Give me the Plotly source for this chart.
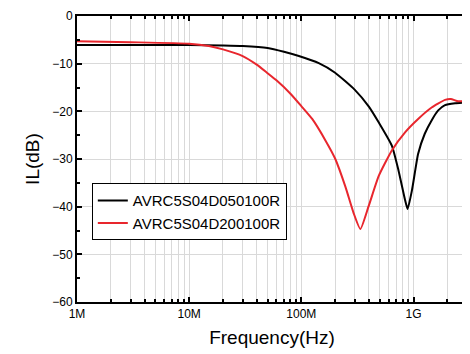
import plotly.graph_objects as go

# Black: AVRC5S04D050100R
freq_a = [1e6, 3e6, 1e7, 2e7, 3e7, 5e7, 7e7, 9.5e7, 1.43e8, 2.0e8, 3.0e8, 4.0e8, 4.89e8,
          6.41e8, 7.35e8, 8.41e8, 8.86e8, 9.7e8, 1.1e9, 1.26e9, 1.45e9, 1.66e9, 1.91e9,
          2.35e9, 3.0e9]
il_a = [-6.1, -6.1, -6.1, -6.2, -6.3, -6.7, -7.5, -8.4, -9.9, -11.9, -15.5, -19.0, -22.3,
        -27.2, -32.4, -38.6, -40.5, -36.5, -28.9, -24.7, -21.9, -19.8, -18.7,
        -18.3, -18.1]

# Red: AVRC5S04D200100R
freq_b = [1e6, 3e6, 1e7, 1.5e7, 2e7, 3e7, 4e7, 5e7, 6e7, 8e7, 1.0e8, 1.25e8, 1.64e8, 2.0e8,
          2.47e8, 2.93e8, 3.36e8, 3.98e8, 4.89e8, 6.41e8, 8.41e8, 1.1e9, 1.45e9, 1.91e9,
          2.15e9, 2.5e9, 3.0e9]
il_b = [-5.3, -5.5, -5.8, -6.3, -7.0, -8.4, -10.2, -12.0, -13.5, -16.3, -18.9, -21.6, -26.1, -29.9,
        -35.8, -41.4, -44.7, -39.9, -33.6, -28.2, -24.4, -21.6, -19.2, -17.6,
        -17.4, -17.9, -17.75]

names = ["AVRC5S04D050100R", "AVRC5S04D200100R"]
colors = ["#000000", "#e8262d"]

x_tickvals = [1e6, 1e7, 1e8, 1e9]
x_ticktext = ["1M", "10M", "100M", "1G"]
minor_vals = [m * d for d in [1e6, 1e7, 1e8, 1e9] for m in range(2, 10) if m * d <= 3e9]

fig = go.Figure()
fig.add_trace(go.Scatter(x=freq_a, y=il_a, mode="lines", name=names[0],
                         line=dict(color=colors[0], width=2, shape="spline", smoothing=0.5)))
fig.add_trace(go.Scatter(x=freq_b, y=il_b, mode="lines", name=names[1],
                         line=dict(color=colors[1], width=2, shape="spline", smoothing=0.5)))

font = "Liberation Sans, Arial, sans-serif"
fig.update_layout(
    width=462, height=346,
    margin=dict(l=69, r=1, t=7, b=52),
    plot_bgcolor="white", paper_bgcolor="white",
    font=dict(family=font, color="black", size=12),
    showlegend=True,
    legend=dict(x=0.038, y=0.415, xanchor="left", yanchor="top",
                bgcolor="white", bordercolor="black", borderwidth=1,
                font=dict(size=15, family=font), tracegroupgap=0,
                itemwidth=30),
)
fig.update_xaxes(
    type="log", range=[6, 9.477],
    tickvals=x_tickvals, ticktext=x_ticktext,
    ticks="inside", ticklen=5, tickwidth=1.5, tickcolor="black",
    showline=True, linecolor="black", linewidth=2, mirror="ticks",
    showgrid=True, gridcolor="#d9d9d9", gridwidth=1,
    minor=dict(tickvals=minor_vals, ticks="inside", ticklen=3, tickcolor="black",
               showgrid=True, gridcolor="#d9d9d9", gridwidth=1),
    title=dict(text="Frequency(Hz)", font=dict(size=19), standoff=10),
    tickfont=dict(size=12),
    zeroline=False,
)
fig.update_yaxes(
    range=[-60, 0], dtick=10,
    ticks="inside", ticklen=5, tickwidth=1.5, tickcolor="black",
    showline=True, linecolor="black", linewidth=2, mirror="ticks",
    showgrid=True, gridcolor="#d9d9d9", gridwidth=1,
    minor=dict(dtick=5, ticks="inside", ticklen=3, tickcolor="black", showgrid=False),
    title=dict(text="IL(dB)", font=dict(size=19), standoff=8),
    tickfont=dict(size=12),
    zeroline=False,
)
fig.write_html("out.html")
